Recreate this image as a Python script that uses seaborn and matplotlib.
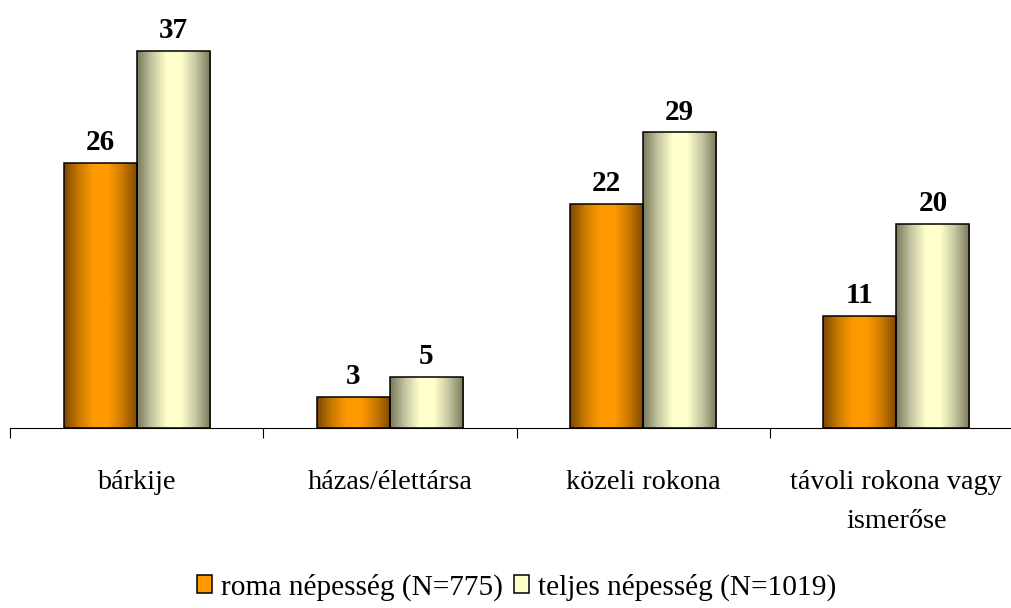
import matplotlib
matplotlib.use("Agg")
import matplotlib.pyplot as plt
import numpy as np
import pandas as pd
import seaborn as sns
from matplotlib.colors import LinearSegmentedColormap
from matplotlib.patches import Patch


# Adatok az abrarol leolvasva.
kategoriak = ["bárkije", "házas/élettársa", "közeli rokona", "távoli rokona vagy\nismerőse"]
roma = [26, 3, 22, 11]
teljes = [37, 5, 29, 20]
sorozatok = ["roma népesség (N=775)", "teljes népesség (N=1019)"]

# Szinek: alap szin es a henger-hatas szelei.
ALAP_SZINEK = ["#FF9900", "#FFFFCC"]
GRADIENSEK = [
    ["#7A4800", "#C97A00", "#FF9900", "#FF9900", "#C97800", "#7A4700"],
    ["#7A7A5C", "#C4C4A0", "#FFFFCC", "#FFFFCC", "#C4C4A0", "#77775A"],
]

sns.set_theme(style="white")
plt.rcParams["font.family"] = ["Liberation Serif", "DejaVu Serif"]
plt.rcParams["text.color"] = "black"
plt.rcParams["xtick.color"] = "black"
plt.rcParams["xtick.labelcolor"] = "black"

df = pd.DataFrame(
    {
        "kategoria": kategoriak * 2,
        "ertek": roma + teljes,
        "sorozat": [sorozatok[0]] * len(kategoriak) + [sorozatok[1]] * len(kategoriak),
    }
)

fig = plt.figure(figsize=(10.11, 6.08), dpi=100)
ax = fig.add_axes([10 / 1011, 180 / 608, 1013 / 1011, 407.6 / 608])

sns.barplot(
    data=df,
    x="kategoria",
    y="ertek",
    hue="sorozat",
    hue_order=sorozatok,
    palette=ALAP_SZINEK,
    width=0.577,
    edgecolor="black",
    linewidth=1.1,
    legend=False,
    ax=ax,
)

# Henger-szeru szinatmenet minden oszlopra.
for cont, szinek in zip(ax.containers, GRADIENSEK):
    cmap = LinearSegmentedColormap.from_list("grad", szinek)
    for bar in cont:
        x0, y0 = bar.get_x(), bar.get_y()
        w, h = bar.get_width(), bar.get_height()
        bar.set_facecolor("none")
        im = ax.imshow(
            np.linspace(0, 1, 256).reshape(1, -1),
            cmap=cmap,
            extent=(x0, x0 + w, y0, y0 + h),
            aspect="auto",
            zorder=bar.get_zorder() - 0.1,
        )
        im.set_clip_path(bar)
    ax.bar_label(cont, fontsize=21, fontweight="bold", padding=5, color="black")

ax.set_xlim(-0.5, len(kategoriak) - 0.5)
ax.set_ylim(0, 40)

# Tengely: osztasok a kategoriahatarokon, feliratok kozepen.
ax.set_xticks(np.arange(len(kategoriak) + 1) - 0.5)
ax.set_xticklabels([])
ax.set_xticks(np.arange(len(kategoriak)), minor=True)
ax.set_xticklabels(kategoriak, minor=True, fontsize=20.3, linespacing=1.75)
ax.tick_params(axis="x", which="major", direction="out", length=7.5, width=0.8,
               color="black", bottom=True)
ax.tick_params(axis="x", which="minor", length=0, pad=30)
ax.set_yticks([])
ax.set_xlabel("")
ax.set_ylabel("")

for oldal in ["left", "top", "right"]:
    ax.spines[oldal].set_visible(False)
ax.spines["bottom"].set_color("black")
ax.spines["bottom"].set_linewidth(0.8)

fogantyuk = [Patch(facecolor=c, edgecolor="black", linewidth=1.1) for c in ALAP_SZINEK]
fig.legend(
    fogantyuk,
    sorozatok,
    loc="center",
    bbox_to_anchor=(0.5 + 11 / 1011, 1 - 587 / 608),
    ncol=2,
    frameon=False,
    fontsize=21.2,
    handlelength=0.5,
    handleheight=0.55,
    handletextpad=0.3,
    columnspacing=0.4,
    labelcolor="black",
)

fig.savefig("out.png", dpi=100)
